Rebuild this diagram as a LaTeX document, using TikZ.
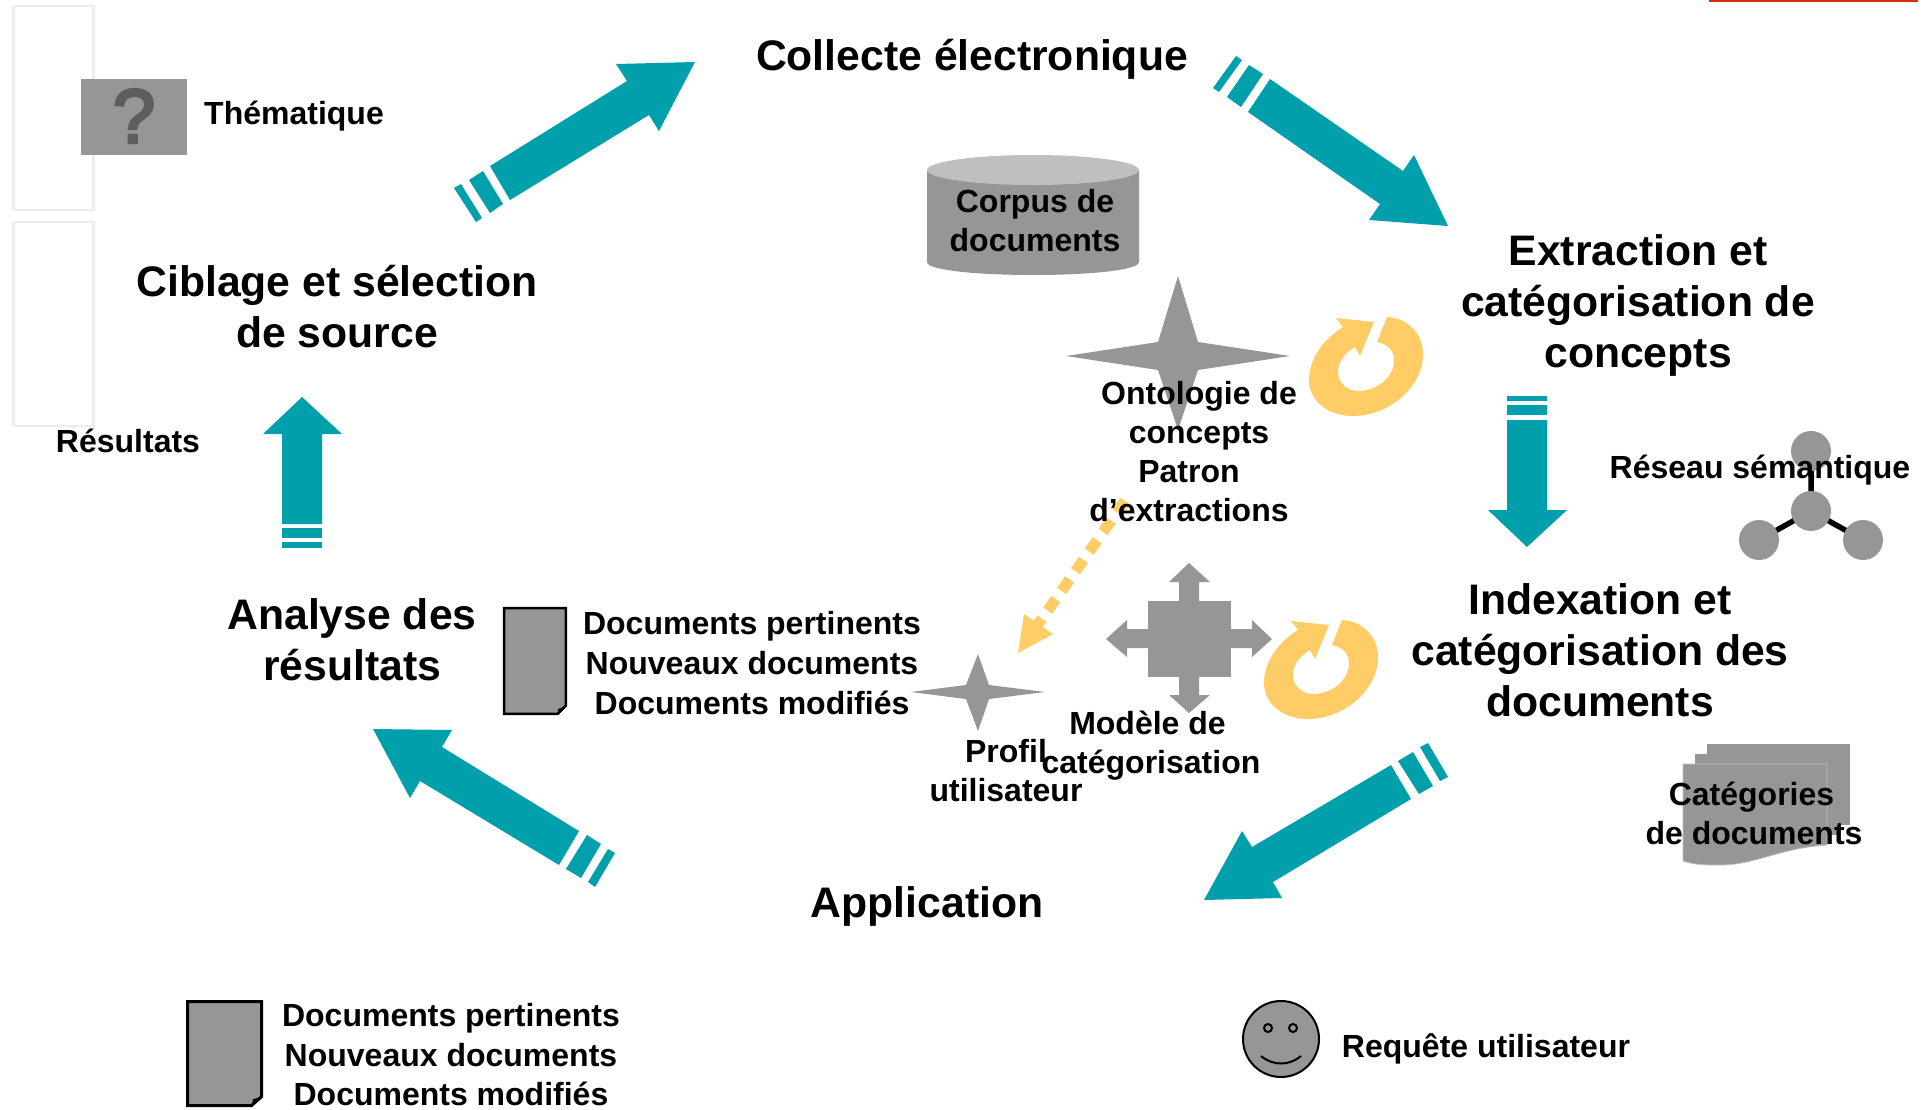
\documentclass[tikz,border=0pt]{standalone}
\usepackage{fontspec}
\setmainfont{Liberation Sans}
\newfontfamily\qmarkfont[FakeBold=4]{Liberation Sans}
\definecolor{tealc}{HTML}{009FAC}
\definecolor{greyc}{HTML}{969696}
\definecolor{yellowc}{HTML}{FFCC66}
\definecolor{redrule}{HTML}{CC3300}
\tikzset{
  tealfill/.style={fill=tealc,draw=none},
  greyfill/.style={fill=greyc,draw=none},
  yellowfill/.style={fill=yellowc,draw=none},
  headtext/.style={inner sep=0pt,align=center,font=\bfseries\fontsize{42.7}{51}\selectfont},
  labeltext/.style={inner sep=0pt,align=center,font=\bfseries\fontsize{32}{39}\selectfont},
  docsheet/.style={fill=greyc,draw=black,line join=miter},
  palebox/.style={draw=black!7,line width=2.5pt,fill=none},
}
\newcommand{\looparrow}[2]{%
  \fill[yellowfill,shift={(#1,#2)}] (1336,318) -- (1374,322) -- (1360,356) -- (1355,347)
    .. controls (1342,355) and (1338,364) .. (1338,372)
    .. controls (1338,384) and (1348,391) .. (1358,391)
    .. controls (1376,391) and (1394,378) .. (1394,360)
    .. controls (1394,350) and (1387,344) .. (1377,342)
    -- (1387,317)
    .. controls (1408,318) and (1423,334) .. (1423,354)
    .. controls (1423,388) and (1388,416) .. (1353,416)
    .. controls (1327,416) and (1309,400) .. (1309,380)
    .. controls (1309,360) and (1322,340) .. (1343,327) -- cycle;}
\begin{document}
\begin{tikzpicture}[x=1pt,y=-1pt]
\useasboundingbox (0,0) rectangle (1930,1109);
\fill[white] (0,0) rectangle (1930,1109);
% top right red rule
\fill[fill=redrule] (1709,0) rectangle (1918,2);
% pale boxes
\draw[palebox] (13.5,6) rectangle (93.5,210);
\draw[palebox] (13.5,222) rectangle (93.5,426);
% question box
\fill[greyfill] (80.5,79) rectangle (187,155);
\node[text=black!63,inner sep=0pt,font=\qmarkfont\fontsize{76}{76}\selectfont] (qmark) at (134,116) {?};
% arrow 1: Ciblage -> Collecte
\fill[tealfill] (695,62) -- (616,64) -- (627,81) -- (490,166) -- (510,200) -- (649,115) -- (659,131) -- cycle;
\fill[tealfill] (469,180) -- (483,171) -- (503,204) -- (490,213) -- cycle;
\fill[tealfill] (454,188) -- (461,184) -- (482,218) -- (476,222) -- cycle;
% arrow 2: Collecte -> Extraction
\fill[tealfill] (1448,226) -- (1414,155) -- (1403,171) -- (1270,79) -- (1248,112) -- (1380,204) -- (1369,220) -- cycle;
\fill[tealfill] (1249,65) -- (1263,74) -- (1241,107) -- (1227,97) -- cycle;
\fill[tealfill] (1236,56) -- (1242,60) -- (1219,92) -- (1213,88) -- cycle;
% arrow 3: Extraction -> Indexation
\fill[tealfill] (1527,547) -- (1488,510) -- (1507,510) -- (1507,420) -- (1547,420) -- (1547,510) -- (1567,510) -- cycle;
\fill[tealfill] (1507,405) rectangle (1547,415);
\fill[tealfill] (1507,396) rectangle (1547,401);
% arrow 4: Indexation -> Application
\fill[tealfill] (1204,900) -- (1242,831) -- (1252,847) -- (1391,765) -- (1411,799) -- (1273,882) -- (1282,898) -- cycle;
\fill[tealfill] (1398,761) -- (1413,752) -- (1433,786) -- (1419,794) -- cycle;
\fill[tealfill] (1420,747) -- (1428,743) -- (1448,777) -- (1440,781) -- cycle;
% arrow 5: Application -> Analyse
\fill[tealfill] (373,729) -- (452,730) -- (442,747) -- (579,831) -- (559,865) -- (420,781) -- (410,798) -- cycle;
\fill[tealfill] (587,835) -- (601,844) -- (581,878) -- (566,869) -- cycle;
\fill[tealfill] (608,849) -- (615,853) -- (595,887) -- (588,882) -- cycle;
% arrow 6: Analyse -> Ciblage
\fill[tealfill] (302,397) -- (263,434) -- (282,434) -- (282,524) -- (322,524) -- (322,434) -- (342,434) -- cycle;
\fill[tealfill] (282,528) rectangle (322,538);
\fill[tealfill] (282,542) rectangle (322,548);
% cylinder
\fill[greyfill] (927,170) -- (927,262) .. controls (927,270) and (975,275) .. (1033,275) .. controls (1091,275) and (1139,270) .. (1139,262) -- (1139,170) -- cycle;
\fill[fill=black!25] (1033,170) ellipse [x radius=106,y radius=15];
% big star
\fill[greyfill] (1178,276) -- (1198,342) -- (1290,356) -- (1198,370) -- (1178,430) -- (1158,370) -- (1066,356) -- (1158,342) -- cycle;
% loops
\looparrow{0}{0}
\looparrow{-45}{303}
% dashed yellow connector
\coordinate (dashstart) at (1125,501);
\coordinate (dashend) at (1036,627);
\draw[yellowc,line width=11pt,dash pattern=on 14pt off 10pt] (dashstart) -- (dashend);
\fill[yellowfill] (1024,614) -- (1053,634) -- (1018,653) -- cycle;
% four-way cross
\fill[greyfill] (1148,601) rectangle (1231,677);
\fill[greyfill] (1189,563) -- (1210,582) -- (1199,582) -- (1199,601) -- (1179,601) -- (1179,582) -- (1169,582) -- cycle;
\fill[greyfill] (1189,713) -- (1210,695) -- (1199,695) -- (1199,677) -- (1179,677) -- (1179,695) -- (1169,695) -- cycle;
\fill[greyfill] (1106,639) -- (1127,620) -- (1127,629) -- (1148,629) -- (1148,648) -- (1127,648) -- (1127,657) -- cycle;
\fill[greyfill] (1272,639) -- (1252,620) -- (1252,629) -- (1231,629) -- (1231,648) -- (1252,648) -- (1252,657) -- cycle;
% small star
\fill[greyfill] (978,654) -- (989,685) -- (1045,692) -- (989,699) -- (978,731) -- (966,699) -- (911,692) -- (966,685) -- cycle;
% semantic network
\coordinate (nettop) at (1811,451);
\coordinate (netmid) at (1811,511);
\coordinate (netleft) at (1759,540);
\coordinate (netright) at (1863,540);
\draw[black,line width=5.5pt] (netmid) -- (nettop) (netmid) -- (netleft) (netmid) -- (netright);
\foreach \c in {nettop,netmid,netleft,netright} \fill[greyfill] (\c) circle (20);
% category sheets
\fill[greyfill] (1707,744) rectangle (1850,825);
\fill[greyfill] (1695,754) rectangle (1838,835);
\fill[greyfill,draw=black!25,line width=0.8pt] (1683,764) -- (1827,764) -- (1827,845) .. controls (1780,848) and (1755,865) .. (1720,865) .. controls (1705,865) and (1695,865) .. (1683,861) -- cycle;
% documents
\draw[docsheet,line width=2.5pt] (504.2,608.2) -- (565.8,608.2) -- (565.8,705.5) -- (557.5,713.8) -- (504.2,713.8) -- cycle;
\fill[black] (567,706) -- (558,715) -- (558,709) -- cycle;
\draw[docsheet,line width=3pt] (187.5,1001.5) -- (261.5,1001.5) -- (261.5,1096.5) -- (251.5,1105.5) -- (187.5,1105.5) -- cycle;
\fill[black] (263,1097) -- (252,1107) -- (253,1099) -- cycle;
% smiley
\fill[fill=greyc,draw=black,line width=2pt] (1281,1039) circle (38);
\draw[line width=2pt] (1268,1028) circle (4);
\draw[line width=2pt] (1293,1028) circle (4);
\draw[line width=2pt] (1261,1056) .. controls (1273,1066) and (1289,1066) .. (1301,1056);
% texts
\node[headtext] (collecte) at (972,59) {Collecte électronique};
\node[headtext] (ciblage) at (337,307) {Ciblage et sélection\\de source};
\node[headtext] (extraction) at (1638,305) {Extraction et\\catégorisation de\\concepts};
\node[headtext] (indexation) at (1600,650) {Indexation et\\catégorisation des\\documents};
\node[headtext] (analyse) at (352,640) {Analyse des\\résultats};
\node[headtext] (application) at (927,906) {Application};
\node[labeltext] (thema) at (294,116) {Thématique};
\node[labeltext] (result) at (128,441) {Résultats};
\node[labeltext] (corpus) at (1035,221) {Corpus de\\documents};
\node[labeltext] (onto) at (1199,416) {Ontologie de\\concepts};
\node[labeltext] (patron) at (1189,491) {Patron\\d’extractions};
\node[labeltext] (reseau) at (1760,470) {Réseau sémantique};
\node[labeltext] (docsa) at (752,663) {Documents pertinents\\[1pt]Nouveaux documents\\[1pt]Documents modifiés};
\node[labeltext] (profil) at (1006,771) {Profil\\utilisateur};
\node[labeltext] (modele) at (1151,746) {Modèle de\hspace*{7pt}\\catégorisation};
\node[labeltext] (categ) at (1754,813) {Catégories\hspace*{5pt}\\de documents};
\node[labeltext] (docsb) at (451,1055) {Documents pertinents\\[1pt]Nouveaux documents\\Documents modifiés};
\node[labeltext] (requete) at (1486,1049) {Requête utilisateur};
\end{tikzpicture}
\end{document}
